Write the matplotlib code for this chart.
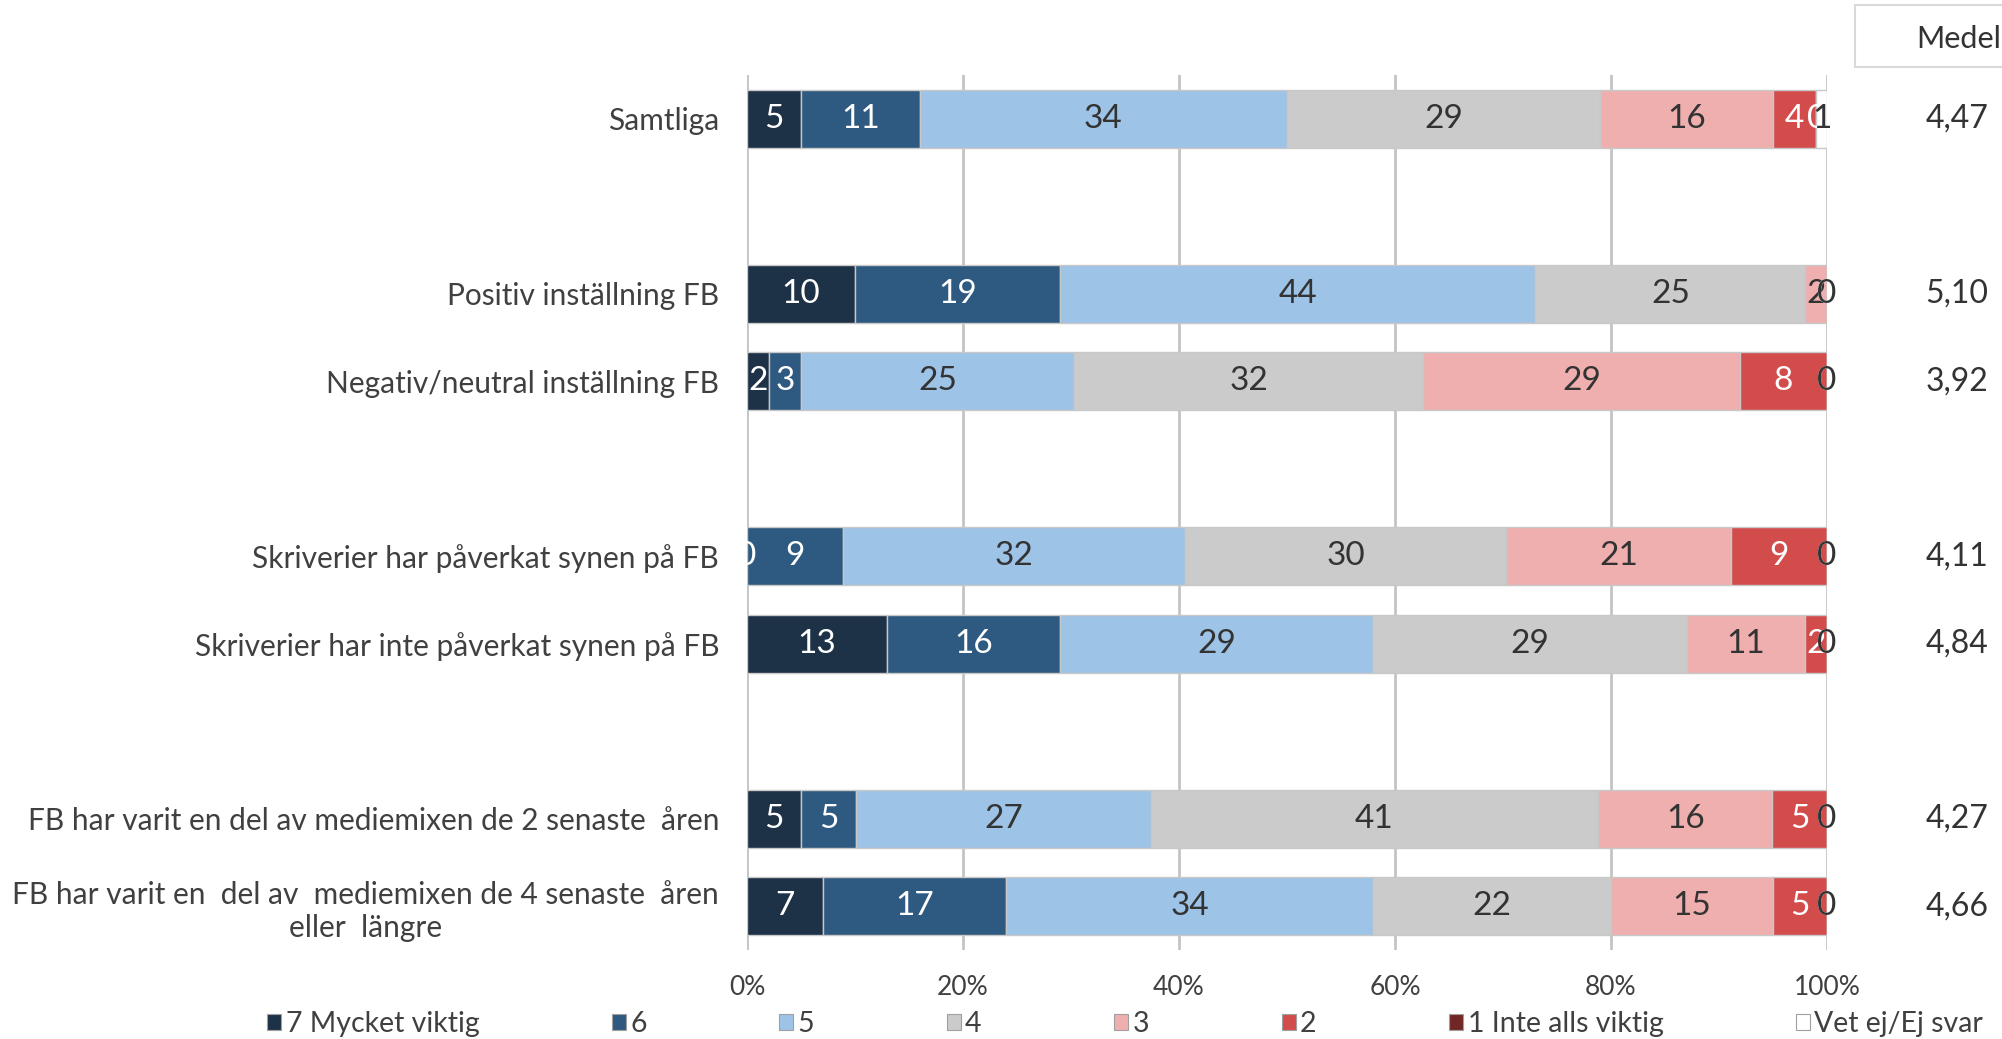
import numpy as np
import matplotlib
matplotlib.use("Agg")
import matplotlib.pyplot as plt
from matplotlib.patches import Rectangle, Patch
from matplotlib.transforms import blended_transform_factory

plt.rcParams["font.family"] = ["Lato", "DejaVu Sans"]

# ---- data -------------------------------------------------------------
categories = [
    "Samtliga",
    "Positiv inställning FB",
    "Negativ/neutral inställning FB",
    "Skriverier har påverkat synen på FB",
    "Skriverier har inte påverkat synen på FB",
    "FB har varit en del av mediemixen de 2 senaste  åren",
    "FB har varit en  del av  mediemixen de 4 senaste  åren\neller  längre",
]
series_names = ["7 Mycket viktig", "6", "5", "4", "3", "2",
                "1 Inte alls viktig", "Vet ej/Ej svar"]
s7 = [5, 10, 2, 0, 13, 5, 7]
s6 = [11, 19, 3, 9, 16, 5, 17]
s5 = [34, 44, 25, 32, 29, 27, 34]
s4 = [29, 25, 32, 30, 29, 41, 22]
s3 = [16, 2, 29, 21, 11, 16, 15]
s2 = [4, 0, 8, 9, 2, 5, 5]
s1 = [0, 0, 0, 0, 0, 0, 0]
s_vet = [1, 0, 0, 0, 0, 0, 0]
medel = ["4,47", "5,10", "3,92", "4,11", "4,84", "4,27", "4,66"]
x_ticks = [0, 20, 40, 60, 80, 100]
x_ticklabels = ["0%", "20%", "40%", "60%", "80%", "100%"]

# ---- style ------------------------------------------------------------
colors = ["#1d3147", "#2e5a81", "#9dc3e6", "#cbcbcb",
          "#efafaf", "#d34c4c", "#732626", "#ffffff"]
label_colors = ["white", "white", "#333333", "#333333",
                "#333333", "white", "white", "#333333"]
text_color = "#404040"
grid_color = "#c4c4c4"

# rows on a categorical axis, blank rows separate the groups
row_slots = [0, 2, 3, 5, 6, 8, 9]

series = np.array([s7, s6, s5, s4, s3, s2, s1, s_vet], dtype=float)
shares = series / series.sum(axis=0) * 100  # 100 % stacked

fig = plt.figure(figsize=(20.02, 10.39), dpi=100)
ax = fig.add_axes([0.3731, 0.0857, 0.9126 - 0.3731, 0.9278 - 0.0857])

left = np.zeros(len(categories))
for i, name in enumerate(series_names):
    bars = ax.barh(row_slots, shares[i], left=left, height=0.66,
                   color=colors[i], edgecolor="#c8c8c8", linewidth=1.0,
                   label=name, zorder=2)
    ax.bar_label(bars, labels=[f"{int(v)}" for v in series[i]],
                 label_type="center", color=label_colors[i],
                 fontsize=24, zorder=4)
    left += shares[i]

ax.set_xlim(0, 100)
ax.set_ylim(9.5, -0.5)
ax.set_xticks(x_ticks)
ax.set_xticklabels(x_ticklabels, fontsize=19, color=text_color)
ax.set_yticks(row_slots)
ax.set_yticklabels(categories, fontsize=21.5, color=text_color,
                   linespacing=1.25)
for t in ax.get_yticklabels():
    t.set_multialignment("center")
ax.tick_params(axis="y", length=0, pad=20)
ax.tick_params(axis="x", length=0, pad=18)
ax.xaxis.grid(True, color=grid_color, linewidth=2.0, zorder=0)
ax.set_axisbelow(True)
for sp in ax.spines.values():
    sp.set_visible(False)

# mean score column
medel_tr = blended_transform_factory(fig.transFigure, ax.transData)
for y, m in zip(row_slots, medel):
    ax.text(0.9775, y, m, transform=medel_tr, ha="center", va="center",
            fontsize=23, color="#333333")

fig.patches.append(Rectangle((0.9266, 0.9355), 0.1, 0.0597,
                             transform=fig.transFigure, facecolor="white",
                             edgecolor="#d9d9d9", linewidth=1.5))
fig.text(0.9785, 0.9625, "Medel", ha="center", va="center",
         fontsize=22, color="#333333")

# legend row
handles = [Patch(facecolor=c, edgecolor="#a0a0a0", linewidth=0.8)
           for c in colors]
fig.legend(handles, series_names, loc="center", ncol=8,
           bbox_to_anchor=(0.562, 0.0145), frameon=False, fontsize=20.5,
           handlelength=0.5, handleheight=0.5, handletextpad=0.15,
           columnspacing=4.65, borderpad=0, labelcolor=text_color)

fig.savefig("out.png", dpi=100, facecolor="white")
